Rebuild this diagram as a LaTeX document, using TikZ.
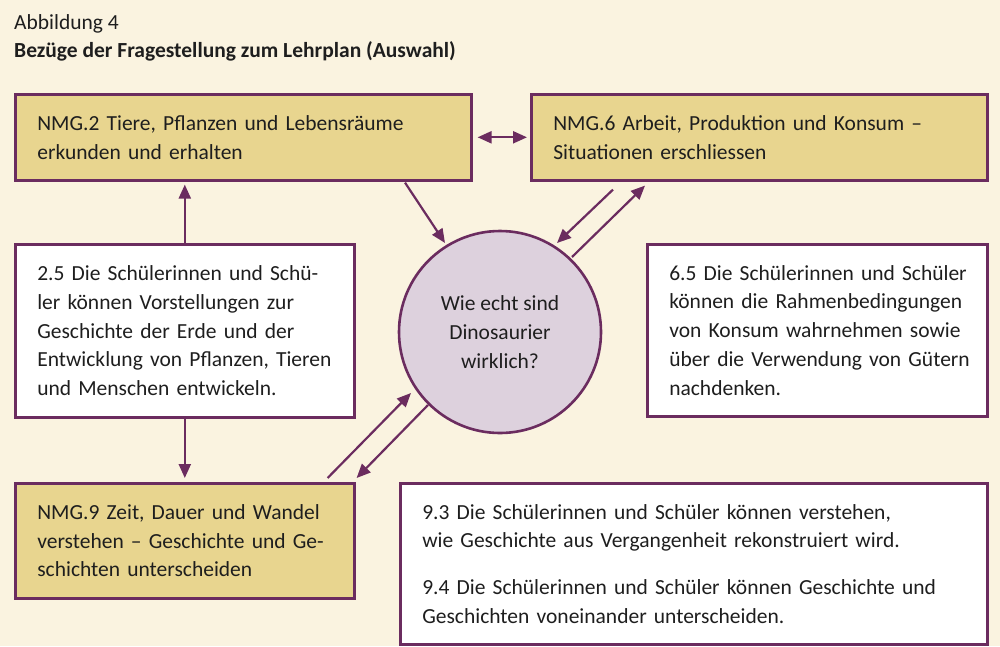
\documentclass[tikz,border=0pt]{standalone}
\usepackage{fontspec}
\setmainfont{Carlito}
\usetikzlibrary{arrows.meta,calc}
\definecolor{bg}{HTML}{FAF3E0}
\definecolor{gold}{HTML}{E8D58F}
\definecolor{purp}{HTML}{6B2C5F}
\definecolor{lav}{HTML}{DDD1DD}
\definecolor{ink}{HTML}{1E1E1E}
\newcommand\bodyfont{\fontsize{21.5}{28.7}\selectfont}
\begin{document}
\begin{tikzpicture}[x=1pt,y=-1pt,
  every node/.style={text=ink},
  box/.style={draw=purp, line width=2.6pt, anchor=north west, inner xsep=22pt, inner ysep=0pt, align=left, font=\bodyfont},
  goldbox/.style={box, fill=gold},
  whitebox/.style={box, fill=white},
  tip/.tip={Triangle[length=14pt,width=12pt]},
  arr/.style={draw=purp, line width=2.2pt, -tip},
  darr/.style={draw=purp, line width=2.2pt, tip-tip}]
\fill[bg] (0,0) rectangle (1000,646);
\useasboundingbox (0,0) rectangle (1000,646);

\node[anchor=base west, inner sep=0pt, font=\bodyfont] (t1) at (14,29) {Abbildung 4};
\node[anchor=base west, inner sep=0pt, font=\bodyfont\bfseries] (t2) at (14,57) {Bezüge der Fragestellung zum Lehrplan (Auswahl)};

\node[goldbox, text width=412pt, minimum height=86pt] (nmg2) at (14,93)
  {\mbox{NMG.2 Tiere, Pflanzen und Lebensräume}\\\mbox{erkunden und erhalten}};
\node[goldbox, text width=412pt, minimum height=86pt] (nmg6) at (530,93)
  {\mbox{NMG.6 Arbeit, Produktion und Konsum –}\\\mbox{Situationen erschliessen}};
\node[whitebox, text width=295pt, minimum height=173pt] (b25) at (14,243)
  {\mbox{2.5 Die Schülerinnen und Schü-}\\\mbox{ler können Vorstellungen zur}\\\mbox{Geschichte der Erde und der}\\\mbox{Entwicklung von Pflanzen, Tieren}\\\mbox{und Menschen entwickeln.}};
\node[whitebox, text width=296pt, minimum height=172pt] (b65) at (646,243)
  {\mbox{6.5 Die Schülerinnen und Schüler}\\\mbox{können die Rahmenbedingungen}\\\mbox{von Konsum wahrnehmen sowie}\\\mbox{über die Verwendung von Gütern}\\\mbox{nachdenken.}};
\node[goldbox, text width=295pt, minimum height=115pt] (nmg9) at (14,482)
  {\mbox{NMG.9 Zeit, Dauer und Wandel}\\\mbox{verstehen – Geschichte und Ge-}\\\mbox{schichten unterscheiden}};
\node[whitebox, text width=543pt, minimum height=161pt] (b9) at (399,482)
  {\mbox{9.3 Die Schülerinnen und Schüler können verstehen,}\\\mbox{wie Geschichte aus Vergangenheit rekonstruiert wird.}\\[18pt]\mbox{9.4 Die Schülerinnen und Schüler können Geschichte und}\\\mbox{Geschichten voneinander unterscheiden.}};
\node[draw=purp, line width=2.6pt, fill=lav, circle, minimum size=202pt, inner sep=0pt, align=center, font=\bodyfont] (circ) at (500,332)
  {Wie echt sind\\Dinosaurier\\wirklich?};

\draw[darr, shorten <=5pt, shorten >=3pt] (nmg2.east) -- (nmg6.west);
\draw[arr, shorten >=3pt] (b25.north) -- (b25.north |- nmg2.south);
\draw[arr, shorten >=4pt] (b25.south) -- (b25.south |- nmg9.north);
\draw[arr] ($(nmg2.south west)+(391,1)$) -- ($(circ.center)+(-55,-89)$);
\draw[arr] ($(nmg6.south west)+(83,8)$) -- ($(circ.center)+(57,-89)$);
\draw[arr] ($(circ.center)+(72,-75)$) -- ($(nmg6.south west)+(115,4)$);
\draw[arr] ($(nmg9.north east)+(-28,-4)$) -- ($(circ.center)+(-89,61)$);
\draw[arr] ($(circ.center)+(-72,73)$) -- ($(nmg9.north east)+(1,-4)$);
\end{tikzpicture}
\end{document}
